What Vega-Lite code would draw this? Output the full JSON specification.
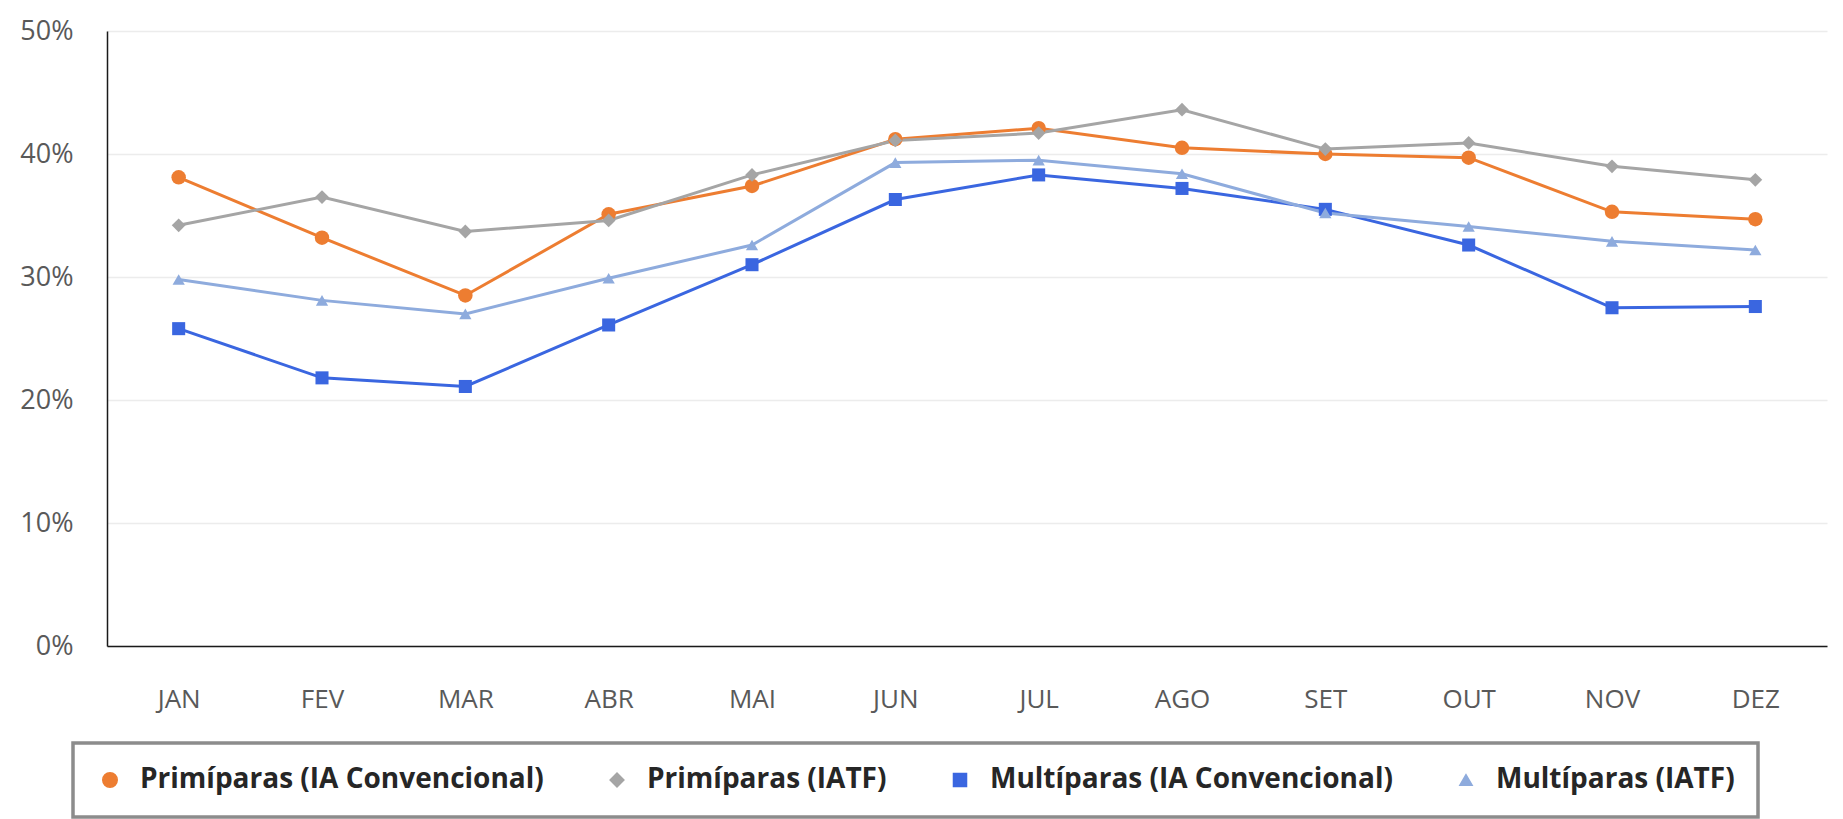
{
  "$schema": "https://vega.github.io/schema/vega-lite/v6.json",
  "autosize": "none",
  "width": 1720,
  "height": 615,
  "padding": {"left": 107, "top": 31, "right": 16, "bottom": 173},
  "background": "white",
  "config": {
    "font": "Open Sans",
    "view": {"stroke": null},
    "legend": {"strokeWidth": {"expr": "3.5"}}
  },
  "data": {
    "values": [
      {"mes": "JAN", "serie": "Primíparas (IA Convencional)", "valor": 0.381},
      {"mes": "FEV", "serie": "Primíparas (IA Convencional)", "valor": 0.332},
      {"mes": "MAR", "serie": "Primíparas (IA Convencional)", "valor": 0.285},
      {"mes": "ABR", "serie": "Primíparas (IA Convencional)", "valor": 0.351},
      {"mes": "MAI", "serie": "Primíparas (IA Convencional)", "valor": 0.374},
      {"mes": "JUN", "serie": "Primíparas (IA Convencional)", "valor": 0.412},
      {"mes": "JUL", "serie": "Primíparas (IA Convencional)", "valor": 0.421},
      {"mes": "AGO", "serie": "Primíparas (IA Convencional)", "valor": 0.405},
      {"mes": "SET", "serie": "Primíparas (IA Convencional)", "valor": 0.400},
      {"mes": "OUT", "serie": "Primíparas (IA Convencional)", "valor": 0.397},
      {"mes": "NOV", "serie": "Primíparas (IA Convencional)", "valor": 0.353},
      {"mes": "DEZ", "serie": "Primíparas (IA Convencional)", "valor": 0.347},
      {"mes": "JAN", "serie": "Primíparas (IATF)", "valor": 0.342},
      {"mes": "FEV", "serie": "Primíparas (IATF)", "valor": 0.365},
      {"mes": "MAR", "serie": "Primíparas (IATF)", "valor": 0.337},
      {"mes": "ABR", "serie": "Primíparas (IATF)", "valor": 0.346},
      {"mes": "MAI", "serie": "Primíparas (IATF)", "valor": 0.383},
      {"mes": "JUN", "serie": "Primíparas (IATF)", "valor": 0.411},
      {"mes": "JUL", "serie": "Primíparas (IATF)", "valor": 0.417},
      {"mes": "AGO", "serie": "Primíparas (IATF)", "valor": 0.436},
      {"mes": "SET", "serie": "Primíparas (IATF)", "valor": 0.404},
      {"mes": "OUT", "serie": "Primíparas (IATF)", "valor": 0.409},
      {"mes": "NOV", "serie": "Primíparas (IATF)", "valor": 0.390},
      {"mes": "DEZ", "serie": "Primíparas (IATF)", "valor": 0.379},
      {"mes": "JAN", "serie": "Multíparas (IA Convencional)", "valor": 0.258},
      {"mes": "FEV", "serie": "Multíparas (IA Convencional)", "valor": 0.218},
      {"mes": "MAR", "serie": "Multíparas (IA Convencional)", "valor": 0.211},
      {"mes": "ABR", "serie": "Multíparas (IA Convencional)", "valor": 0.261},
      {"mes": "MAI", "serie": "Multíparas (IA Convencional)", "valor": 0.310},
      {"mes": "JUN", "serie": "Multíparas (IA Convencional)", "valor": 0.363},
      {"mes": "JUL", "serie": "Multíparas (IA Convencional)", "valor": 0.383},
      {"mes": "AGO", "serie": "Multíparas (IA Convencional)", "valor": 0.372},
      {"mes": "SET", "serie": "Multíparas (IA Convencional)", "valor": 0.355},
      {"mes": "OUT", "serie": "Multíparas (IA Convencional)", "valor": 0.326},
      {"mes": "NOV", "serie": "Multíparas (IA Convencional)", "valor": 0.275},
      {"mes": "DEZ", "serie": "Multíparas (IA Convencional)", "valor": 0.276},
      {"mes": "JAN", "serie": "Multíparas (IATF)", "valor": 0.298},
      {"mes": "FEV", "serie": "Multíparas (IATF)", "valor": 0.281},
      {"mes": "MAR", "serie": "Multíparas (IATF)", "valor": 0.270},
      {"mes": "ABR", "serie": "Multíparas (IATF)", "valor": 0.299},
      {"mes": "MAI", "serie": "Multíparas (IATF)", "valor": 0.326},
      {"mes": "JUN", "serie": "Multíparas (IATF)", "valor": 0.393},
      {"mes": "JUL", "serie": "Multíparas (IATF)", "valor": 0.395},
      {"mes": "AGO", "serie": "Multíparas (IATF)", "valor": 0.384},
      {"mes": "SET", "serie": "Multíparas (IATF)", "valor": 0.352},
      {"mes": "OUT", "serie": "Multíparas (IATF)", "valor": 0.341},
      {"mes": "NOV", "serie": "Multíparas (IATF)", "valor": 0.329},
      {"mes": "DEZ", "serie": "Multíparas (IATF)", "valor": 0.322}
    ]
  },
  "encoding": {
    "x": {
      "field": "mes",
      "type": "ordinal",
      "sort": ["JAN", "FEV", "MAR", "ABR", "MAI", "JUN", "JUL", "AGO", "SET", "OUT", "NOV", "DEZ"],
      "scale": {"type": "point", "padding": 0.5},
      "axis": {
        "title": null,
        "labelAngle": 0,
        "labelFontSize": 26,
        "labelColor": "#595959",
        "labelPadding": 40,
        "ticks": false,
        "domainColor": "#1a1a1a",
        "domainWidth": 1.5,
        "grid": false
      }
    },
    "y": {
      "field": "valor",
      "type": "quantitative",
      "scale": {"domain": [0, 0.5], "nice": false},
      "axis": {
        "title": null,
        "values": [0, 0.1, 0.2, 0.3, 0.4, 0.5],
        "format": ".0%",
        "labelFontSize": 27,
        "labelColor": "#595959",
        "labelPadding": 34,
        "ticks": false,
        "domainColor": "#1a1a1a",
        "domainWidth": 1.5,
        "gridColor": "#ececec",
        "gridWidth": 1.5
      }
    },
    "color": {
      "field": "serie",
      "type": "nominal",
      "scale": {
        "domain": ["Primíparas (IA Convencional)", "Primíparas (IATF)", "Multíparas (IA Convencional)", "Multíparas (IATF)"],
        "range": ["#ED7D31", "#A5A5A5", "#3A66E0", "#8EABDD"]
      },
      "legend": {
        "title": null,
        "orient": "none",
        "legendX": -34,
        "legendY": 712,
        "direction": "horizontal",
        "labelFontSize": 28,
        "labelFontWeight": "bold",
        "labelColor": "#262626",
        "labelLimit": 800,
        "padding": 23,
        "strokeColor": "#8c8c8c",
        "fillColor": "white",
        "columnPadding": 59,
        "symbolSize": 300,
        "labelOffset": 16
      }
    }
  },
  "layer": [
    {
      "mark": {"type": "line", "strokeWidth": 3},
      "encoding": {}
    },
    {
      "mark": {"type": "point", "filled": true, "opacity": 1},
      "encoding": {
        "shape": {
          "field": "serie",
          "type": "nominal",
          "scale": {
            "domain": ["Primíparas (IA Convencional)", "Primíparas (IATF)", "Multíparas (IA Convencional)", "Multíparas (IATF)"],
            "range": ["circle", "diamond", "square", "triangle-up"]
          },
          "legend": null
        },
        "size": {
          "field": "serie",
          "type": "nominal",
          "scale": {
            "domain": ["Primíparas (IA Convencional)", "Primíparas (IATF)", "Multíparas (IA Convencional)", "Multíparas (IATF)"],
            "range": [210, 150, 340, 180]
          },
          "legend": null
        }
      }
    }
  ]
}
